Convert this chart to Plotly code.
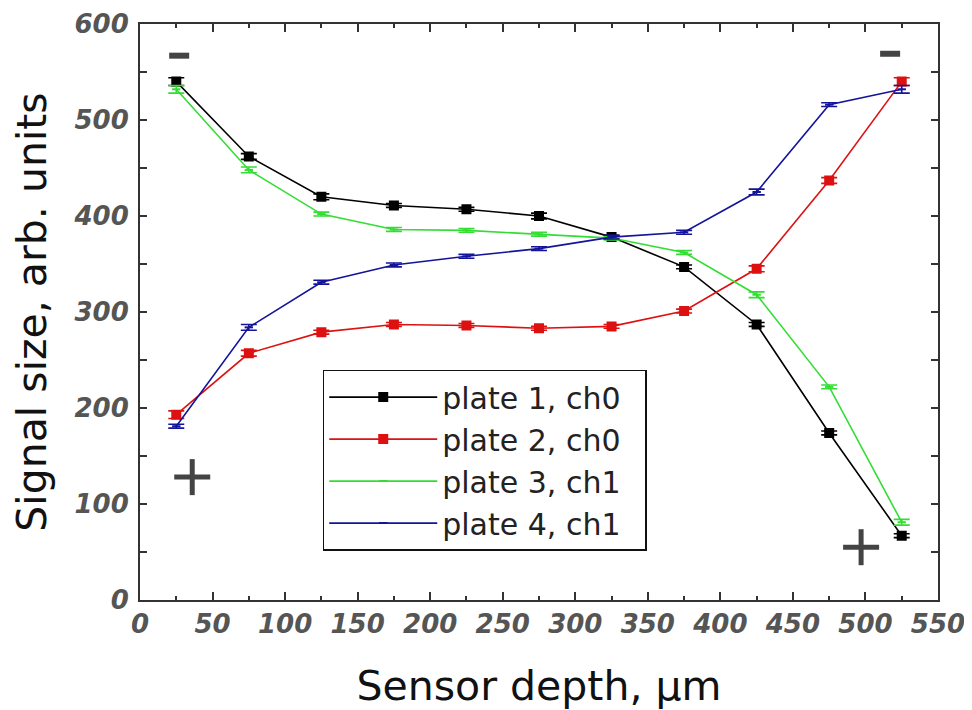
import plotly.graph_objects as go

depth = [25, 75, 125, 175, 225, 275, 325, 375, 425, 475, 525]
plate1_ch0 = [540, 462, 420, 411, 407, 400, 378, 347, 287, 174, 67]
plate2_ch0 = [193, 257, 279, 287, 286, 283, 285, 301, 345, 437, 540]
plate3_ch1 = [532, 448, 402, 386, 385, 381, 377, 362, 318, 222, 81]
plate4_ch1 = [181, 284, 331, 349, 358, 366, 378, 383, 425, 516, 532]
err1 = [4, 3, 3, 2, 2, 3, 2, 2, 2, 2, 2]
err2 = [4, 3, 2, 2, 2, 2, 2, 2, 3, 3, 4]
err3 = [4, 3, 2, 2, 2, 2, 2, 2, 3, 2, 3]
err4 = [2, 3, 2, 2, 2, 2, 2, 2, 3, 2, 4]

names = ["plate 1, ch0", "plate 2, ch0", "plate 3, ch1", "plate 4, ch1"]
colors = ["#000000", "#dd1111", "#33dd33", "#14149a"]
symbols = ["square", "square", "line-ew", "line-ew"]
msizes = [8, 8, 6, 6]

minus_x = [27, 517]
minus_y = [567, 569]
plus_x = [36, 497]
plus_y = [128, 55]

fig = go.Figure()
series = [plate1_ch0, plate2_ch0, plate3_ch1, plate4_ch1]
errs = [err1, err2, err3, err4]
for i in range(4):
    fig.add_trace(go.Scatter(
        x=depth, y=series[i], name=names[i] + "\u00a0\u00a0", mode="lines+markers",
        line=dict(color=colors[i], width=1.6),
        marker=dict(symbol=symbols[i], size=msizes[i], color=colors[i],
                    line=dict(color=colors[i], width=2)),
        error_y=dict(type="data", array=errs[i], color=colors[i], thickness=1.6, width=8),
        legendgroup="g%d" % i,
    ))

shapes = []
for mx, my in zip(minus_x, minus_y):
    shapes.append(dict(type="rect", xref="x", yref="y", xsizemode="pixel", ysizemode="pixel",
                       xanchor=mx, yanchor=my, x0=-10, x1=10, y0=-3, y1=3,
                       fillcolor="#444444", line=dict(width=0)))
for px, py in zip(plus_x, plus_y):
    shapes.append(dict(type="rect", xref="x", yref="y", xsizemode="pixel", ysizemode="pixel",
                       xanchor=px, yanchor=py, x0=-18, x1=18, y0=-2.5, y1=2.5,
                       fillcolor="#444444", line=dict(width=0)))
    shapes.append(dict(type="rect", xref="x", yref="y", xsizemode="pixel", ysizemode="pixel",
                       xanchor=px, yanchor=py, x0=-2.5, x1=2.5, y0=-18, y1=18,
                       fillcolor="#444444", line=dict(width=0)))

tickfont = dict(family="DejaVu Sans", size=26, color="#555555", weight="bold", style="italic")
titlefont = dict(family="DejaVu Sans", size=41, color="#111111")

fig.update_layout(
    width=964, height=702,
    margin=dict(l=132, r=34, t=16, b=110, autoexpand=False),
    paper_bgcolor="white", plot_bgcolor="white",
    shapes=shapes,
    showlegend=True,
    legend=dict(x=0.229, y=0.40, xanchor="left", yanchor="top",
                bgcolor="white", bordercolor="#111111", borderwidth=1.5,
                font=dict(family="DejaVu Sans", size=30, color="#222222"),
                tracegroupgap=0, itemwidth=108),
    xaxis=dict(range=[0, 550], dtick=50, tick0=0, ticks="inside", ticklen=8, tickwidth=1.5,
               tickcolor="#333333", showline=True, linecolor="#333333", linewidth=2,
               mirror="allticks", showgrid=False, zeroline=False, tickfont=tickfont,
               automargin=False,
               minor=dict(dtick=25, ticks="inside", ticklen=4, tickwidth=1.5, tickcolor="#333333", showgrid=False),
               title=dict(text="Sensor depth, μm", font=titlefont, standoff=34)),
    yaxis=dict(range=[0, 600], dtick=100, tick0=0, ticks="inside", ticklen=7, tickwidth=1.5,
               tickcolor="#333333", showline=True, linecolor="#333333", linewidth=2,
               mirror="allticks", showgrid=False, zeroline=False, tickfont=tickfont,
               ticklabelstandoff=4, automargin=False,
               minor=dict(dtick=50, ticks="inside", ticklen=7, tickwidth=1.5, tickcolor="#333333", showgrid=False),
               title=dict(text="Signal size, arb. units", font=titlefont, standoff=20)),
)

fig.write_html("out.html")
